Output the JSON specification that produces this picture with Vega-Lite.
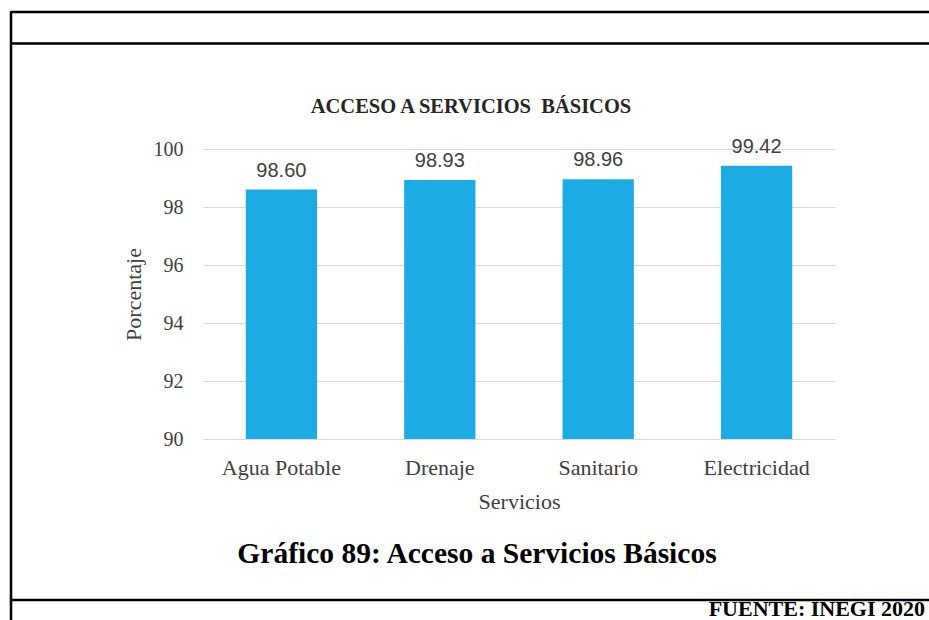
{
  "$schema": "https://vega.github.io/schema/vega-lite/v6.json",
  "width": 632,
  "height": 290,
  "autosize": {"type": "none"},
  "padding": {"left": 203, "top": 149, "right": 94, "bottom": 181},
  "background": "white",
  "config": {"view": {"stroke": null}},
  "data": {
    "values": [
      {"servicio": "Agua Potable", "porcentaje": 98.60},
      {"servicio": "Drenaje", "porcentaje": 98.93},
      {"servicio": "Sanitario", "porcentaje": 98.96},
      {"servicio": "Electricidad", "porcentaje": 99.42}
    ]
  },
  "layer": [
    {
      "mark": {"type": "bar", "color": "#1CABE2"},
      "encoding": {
        "x": {
          "field": "servicio",
          "type": "nominal",
          "sort": null,
          "scale": {"paddingInner": 0.55, "paddingOuter": 0.27},
          "axis": {
            "labelAngle": 0,
            "domain": false,
            "ticks": false,
            "labelFont": "Liberation Serif",
            "labelFontSize": 22,
            "labelColor": "#404040",
            "labelPadding": 18,
            "title": "Servicios",
            "titleFont": "Liberation Serif",
            "titleFontSize": 22,
            "titleFontWeight": "normal",
            "titleColor": "#404040",
            "titleY": 69,
            "titleBaseline": "alphabetic"
          }
        },
        "y": {
          "field": "porcentaje",
          "type": "quantitative",
          "scale": {"domain": [90, 100], "zero": false, "nice": false},
          "axis": {
            "values": [90, 92, 94, 96, 98, 100],
            "grid": true,
            "gridColor": "#d9d9d9",
            "gridWidth": 1,
            "domain": false,
            "ticks": false,
            "labelFont": "Liberation Serif",
            "labelFontSize": 20,
            "labelColor": "#404040",
            "labelPadding": 20,
            "title": "Porcentaje",
            "titleFont": "Liberation Serif",
            "titleFontSize": 22,
            "titleFontWeight": "normal",
            "titleColor": "#404040",
            "titleAngle": -90,
            "titleX": -70,
            "titleY": 145,
            "titleAlign": "center",
            "titleBaseline": "middle"
          }
        },
        "y2": {"datum": 90}
      }
    },
    {
      "mark": {
        "type": "text",
        "font": "Liberation Sans",
        "fontSize": 20,
        "color": "#404040",
        "baseline": "alphabetic",
        "dy": -13
      },
      "encoding": {
        "x": {"field": "servicio", "type": "nominal", "sort": null},
        "y": {"field": "porcentaje", "type": "quantitative"},
        "text": {"field": "porcentaje", "type": "quantitative", "format": ".2f"}
      }
    },
    {
      "data": {"values": [{"titulo": "ACCESO A SERVICIOS\u00a0 BÁSICOS"}]},
      "mark": {
        "type": "text",
        "font": "Liberation Serif",
        "fontSize": 20.5,
        "fontWeight": "bold",
        "color": "#262626",
        "align": "center",
        "baseline": "alphabetic"
      },
      "encoding": {
        "x": {"value": 268},
        "y": {"value": -36},
        "text": {"field": "titulo"}
      }
    },
    {
      "data": {"values": [{"caption": "Gráfico 89: Acceso a Servicios Básicos"}]},
      "mark": {
        "type": "text",
        "font": "Liberation Serif",
        "fontSize": 29.5,
        "fontWeight": "bold",
        "color": "#000000",
        "align": "center",
        "baseline": "alphabetic"
      },
      "encoding": {
        "x": {"value": 274},
        "y": {"value": 414},
        "text": {"field": "caption"}
      }
    },
    {
      "data": {"values": [{"source": "FUENTE: INEGI 2020"}]},
      "mark": {
        "type": "text",
        "font": "Liberation Serif",
        "fontSize": 22,
        "fontWeight": "bold",
        "color": "#000000",
        "align": "right",
        "baseline": "alphabetic"
      },
      "encoding": {
        "x": {"value": 722},
        "y": {"value": 467},
        "text": {"field": "source"}
      }
    },
    {
      "data": {"values": [{}]},
      "mark": {"type": "rule", "color": "#000000", "strokeWidth": 2.5},
      "encoding": {"x": {"value": -192}, "x2": {"value": 726}, "y": {"value": -137}, "y2": {"value": -137}}
    },
    {
      "data": {"values": [{}]},
      "mark": {"type": "rule", "color": "#000000", "strokeWidth": 2.5},
      "encoding": {"x": {"value": -192}, "x2": {"value": 726}, "y": {"value": -105.5}, "y2": {"value": -105.5}}
    },
    {
      "data": {"values": [{}]},
      "mark": {"type": "rule", "color": "#000000", "strokeWidth": 2.5},
      "encoding": {"x": {"value": -192}, "x2": {"value": 726}, "y": {"value": 451}, "y2": {"value": 451}}
    },
    {
      "data": {"values": [{}]},
      "mark": {"type": "rule", "color": "#000000", "strokeWidth": 2.5},
      "encoding": {"x": {"value": -192}, "x2": {"value": -192}, "y": {"value": -138}, "y2": {"value": 471}}
    }
  ]
}
